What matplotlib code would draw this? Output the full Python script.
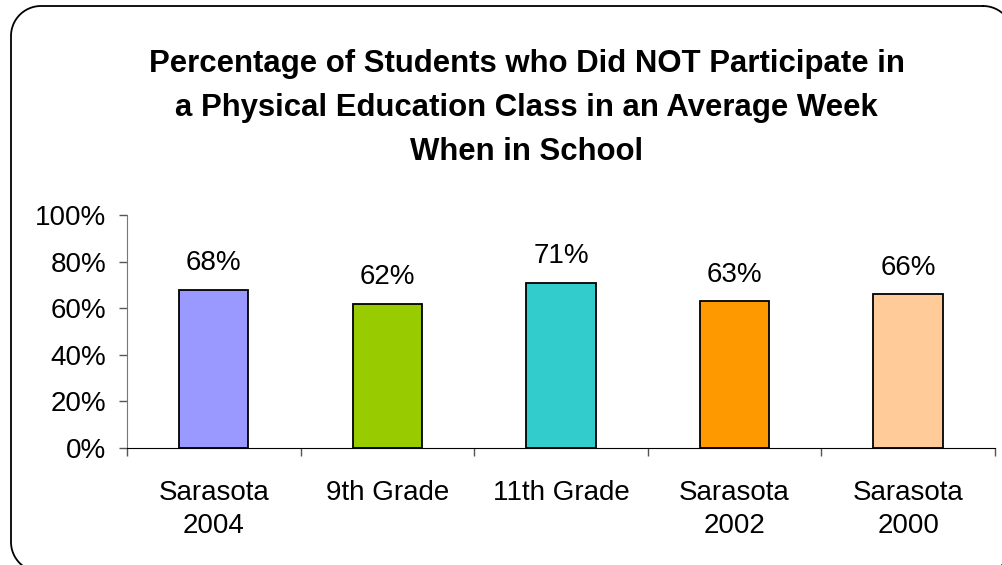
import matplotlib
matplotlib.use("Agg")
import numpy as np
import matplotlib.pyplot as plt
from matplotlib.lines import Line2D
from matplotlib.ticker import PercentFormatter

categories = ["Sarasota\n2004", "9th Grade", "11th Grade", "Sarasota\n2002", "Sarasota\n2000"]
values = [68, 62, 71, 63, 66]
colors = ["#9999FF", "#99CC00", "#33CCCC", "#FF9900", "#FFCC99"]

plt.rcParams["font.family"] = ["Liberation Sans", "DejaVu Sans"]

W, H = 1003, 565
fig = plt.figure(figsize=(W / 100, H / 100), dpi=100)


def rounded_frame(left, top, right, bottom, r):
    # outline of a rounded rectangle in pixel coords (y down), returned as figure fractions
    xs, ys = [], []
    corners = [(right - r, top + r, -90, 0), (right - r, bottom - r, 0, 90),
               (left + r, bottom - r, 90, 180), (left + r, top + r, 180, 270)]
    for cx, cy, a0, a1 in corners:
        t = np.radians(np.linspace(a0, a1, 30))
        xs.extend(cx + r * np.cos(t))
        ys.extend(cy + r * np.sin(t))
    xs.append(xs[0])
    ys.append(ys[0])
    return np.array(xs) / W, 1 - np.array(ys) / H


fx, fy = rounded_frame(11, 6, 1013, 572, 30)
fig.add_artist(Line2D(fx, fy, transform=fig.transFigure, color="black", linewidth=1.3))

fig.text(0.525, 0.913,
         "Percentage of Students who Did NOT Participate in\n"
         "a Physical Education Class in an Average Week\n"
         "When in School",
         ha="center", va="top", fontsize=22.4, fontweight="bold",
         linespacing=1.6)

ax = fig.add_axes([0.1266, 0.207, 0.8654, 0.412])
x = range(len(values))
bars = ax.bar(x, values, width=0.4, color=colors, edgecolor="black", linewidth=1.3)

for b, v in zip(bars, values):
    ax.annotate(f"{v}%", (b.get_x() + b.get_width() / 2, v),
                xytext=(0, 10), textcoords="offset points",
                ha="center", va="bottom", fontsize=20)

ax.set_xlim(-0.5, len(values) - 0.5)
ax.set_ylim(0, 100)
ax.set_yticks(range(0, 101, 20))
ax.yaxis.set_major_formatter(PercentFormatter(decimals=0))
ax.tick_params(axis="y", labelsize=20, length=6, width=1, direction="out",
               color="#555555", pad=9)

ax.set_xticks([i - 0.5 for i in range(len(values) + 1)], minor=False)
ax.set_xticklabels([])
ax.set_xticks(list(x), minor=True)
ax.set_xticklabels(categories, minor=True, fontsize=20, linespacing=1.35)
ax.tick_params(axis="x", which="major", length=6, width=1, color="#555555")
ax.tick_params(axis="x", which="minor", length=0, pad=23)

for s in ["top", "right"]:
    ax.spines[s].set_visible(False)
ax.spines["left"].set_color("#777777")
ax.spines["bottom"].set_color("black")

fig.savefig("out.png", dpi=100)
